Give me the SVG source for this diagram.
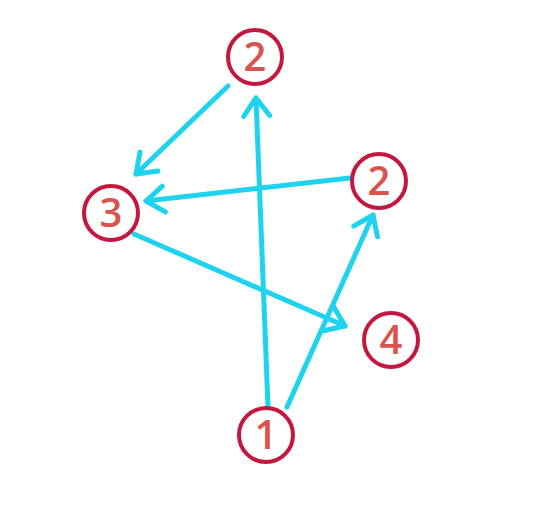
<svg xmlns="http://www.w3.org/2000/svg" width="535" height="512" viewBox="0 0 535 512">
<style>
.node circle{fill:#fff;stroke:#c4173f;stroke-width:4}
.node text{font-family:"Open Sans","Liberation Sans",Arial,sans-serif;font-size:40px;font-weight:600;fill:#d9534f;text-anchor:middle}
.edge{stroke:#1fd3ee;stroke-width:5;stroke-linecap:round;fill:none}
</style>
<defs>
<marker id="ah" markerUnits="userSpaceOnUse" viewBox="-30 -30 60 60" markerWidth="60" markerHeight="60" refX="0" refY="0" orient="auto" overflow="visible">
<path d="M-18,-13 L0,0 L-18,13" fill="none" stroke="#1fd3ee" stroke-width="5" stroke-linecap="round" stroke-linejoin="round"/>
</marker>
</defs>
<rect width="535" height="512" fill="#fff"/>
<g id="connectors">
<line class="edge" x1="228" y1="86" x2="136" y2="174" marker-end="url(#ah)"/>
<line class="edge" x1="350" y1="178" x2="146" y2="201" marker-end="url(#ah)"/>
<line class="edge" x1="134" y1="234" x2="345" y2="326" marker-end="url(#ah)"/>
<line class="edge" x1="268" y1="407" x2="256" y2="98" marker-end="url(#ah)"/>
<line class="edge" x1="287" y1="407" x2="373" y2="215" marker-end="url(#ah)"/>
</g>
<g id="n2a" class="node"><circle cx="255" cy="57" r="27"/><text x="255" y="71">2</text></g>
<g id="n3" class="node"><circle cx="111" cy="213" r="27"/><text x="111" y="227">3</text></g>
<g id="n2b" class="node"><circle cx="379" cy="181" r="27"/><text x="379" y="195">2</text></g>
<g id="n4" class="node"><circle cx="391" cy="340" r="27"/><text x="391" y="354">4</text></g>
<g id="n1" class="node"><circle cx="266" cy="435" r="27"/><text x="266" y="449">1</text></g>
</svg>
